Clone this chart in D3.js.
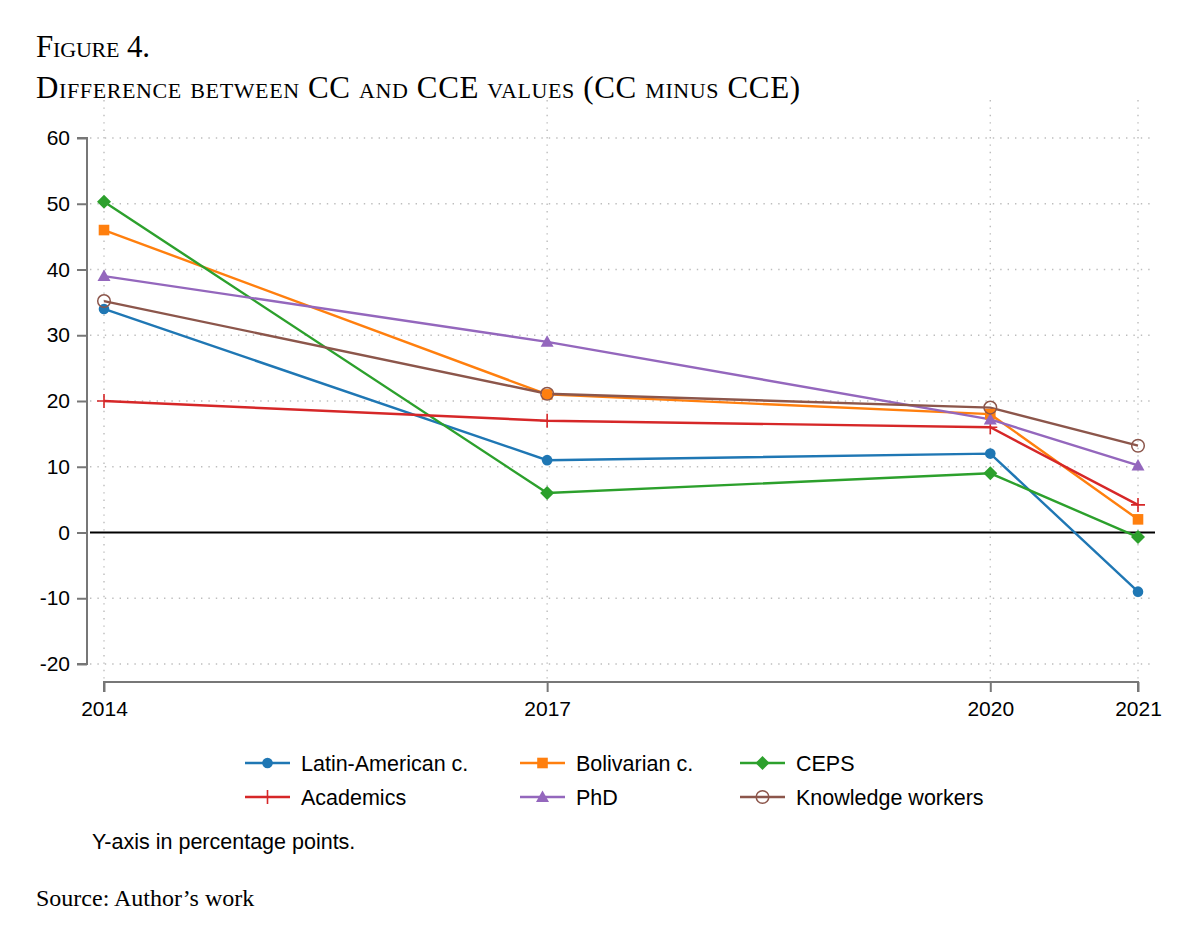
<!DOCTYPE html>
<html>
<head>
<meta charset="utf-8">
<script src="https://cdn.jsdelivr.net/npm/d3@7"></script>
<style>
	body { margin: 0; background: #fff; }
	.title { font-family: "Liberation Serif", "DejaVu Serif", serif; font-variant: small-caps; }
	.sans { font-family: "Liberation Sans", Arial, sans-serif; }
</style>
</head>
<body>
<svg id="chart"></svg>
<script>
const years = [2014, 2017, 2020, 2021];
const yTicks = [-20, -10, 0, 10, 20, 30, 40, 50, 60];

const seriesNames = ['Latin-American c.', 'Bolivarian c.', 'CEPS', 'Academics', 'PhD', 'Knowledge workers'];
const latinAmerican = [34, 11, 12, -9];
const bolivarian = [46, 21, 18, 2];
const ceps = [50.3, 6, 9, -0.7];
const academics = [20, 17, 16, 4.2];
const phd = [39, 29, 17.2, 10.2];
const knowledgeWorkers = [35.2, 21.1, 19, 13.2];

const colors = ['#1f77b4', '#ff7f0e', '#2ca02c', '#d62728', '#9467bd', '#8c564b'];
const markers = ['circle', 'square', 'diamond', 'plus', 'triangle', 'hollow'];

const series = [latinAmerican, bolivarian, ceps, academics, phd, knowledgeWorkers].map((vals, i) => ({
	name: seriesNames[i],
	color: colors[i],
	marker: markers[i],
	values: vals.map((v, j) => ({ year: years[j], value: v }))
}));

const width = 1196;
const height = 942;

const svg = d3.select('#chart')
	.attr('width', width)
	.attr('height', height);

// titles
svg.append('text').attr('class', 'title')
	.attr('x', 36).attr('y', 57)
	.attr('font-size', 31)
	.attr('textLength', 114).attr('lengthAdjust', 'spacing')
	.text('Figure 4.');
svg.append('text').attr('class', 'title')
	.attr('x', 36).attr('y', 98)
	.attr('font-size', 31)
	.attr('textLength', 764).attr('lengthAdjust', 'spacing')
	.text('Difference between CC and CCE values (CC minus CCE)');

const x = d3.scaleLinear().domain([2014, 2021]).range([104, 1138]);
const y = d3.scaleLinear().domain([-20, 60]).range([664, 138]);

// grid
const grid = svg.append('g');
grid.selectAll('.hgrid')
	.data(yTicks.filter(d => d !== 0))
	.join('line')
	.attr('x1', 90).attr('x2', 1155)
	.attr('y1', d => y(d)).attr('y2', d => y(d))
	.attr('stroke', '#bdbdbd')
	.attr('stroke-width', 1.4)
	.attr('stroke-dasharray', '1.4,6');
grid.selectAll('.vgrid')
	.data(years)
	.join('line')
	.attr('x1', d => x(d)).attr('x2', d => x(d))
	.attr('y1', 100).attr('y2', 680)
	.attr('stroke', '#bdbdbd')
	.attr('stroke-width', 1.4)
	.attr('stroke-dasharray', '1.4,6');

// zero line
svg.append('line')
	.attr('x1', 90).attr('x2', 1155)
	.attr('y1', y(0)).attr('y2', y(0))
	.attr('stroke', '#000')
	.attr('stroke-width', 2);

// axes
const fmt = d => String(d);
const yAxis = d3.axisLeft(y).tickValues(yTicks).tickFormat(fmt).tickSize(10).tickPadding(7);
const gy = svg.append('g')
	.attr('class', 'sans')
	.attr('transform', 'translate(87,0)')
	.call(yAxis);
gy.select('.domain').attr('stroke', '#777').attr('stroke-width', 2).attr('d', `M-10,${y(60)}H0V${y(-20)}H-10`);

const xAxis = d3.axisBottom(x).tickValues(years).tickFormat(fmt).tickSize(10).tickPadding(9);
const gx = svg.append('g')
	.attr('class', 'sans')
	.attr('transform', 'translate(0,682)')
	.call(xAxis);
gx.select('.domain').attr('stroke', '#777').attr('stroke-width', 2).attr('d', `M${x(2014)},10V0H${x(2021)}V10`);

[gx, gy].forEach(g => {
	g.selectAll('.tick line').attr('stroke', '#777').attr('stroke-width', 2);
	g.selectAll('.tick text').attr('fill', '#000').attr('font-size', 21).attr('font-family', '"Liberation Sans", Arial, sans-serif');
});

// marker drawing
function drawMarker(sel, type, color) {
	if (type === 'circle') {
		sel.append('circle').attr('r', 5.3).attr('fill', color);
	} else if (type === 'square') {
		sel.append('rect').attr('x', -5.3).attr('y', -5.3).attr('width', 10.6).attr('height', 10.6).attr('fill', color);
	} else if (type === 'diamond') {
		sel.append('path').attr('d', 'M0,-7L7,0L0,7L-7,0Z').attr('fill', color);
	} else if (type === 'triangle') {
		sel.append('path').attr('d', 'M0,-6.5L6.5,5L-6.5,5Z').attr('fill', color);
	} else if (type === 'plus') {
		sel.append('path').attr('d', 'M-7,0H7M0,-7V7').attr('stroke', color).attr('stroke-width', 1.6);
	} else if (type === 'hollow') {
		sel.append('circle').attr('r', 6.3).attr('fill', 'none').attr('stroke', color).attr('stroke-width', 1.5);
	}
}

const line = d3.line()
	.x(d => x(d.year))
	.y(d => y(d.value));

const plot = svg.append('g');
series.forEach(s => {
	plot.append('path')
		.datum(s.values)
		.attr('fill', 'none')
		.attr('stroke', s.color)
		.attr('stroke-width', 2.4)
		.attr('d', line);
});
series.forEach(s => {
	s.values.forEach(d => {
		const m = plot.append('g').attr('transform', `translate(${x(d.year)},${y(d.value)})`);
		drawMarker(m, s.marker, s.color);
	});
});

// legend
const legendCols = [245, 520, 740];
const legendRows = [763, 797];
const legend = svg.append('g').attr('class', 'sans');
series.forEach((s, i) => {
	const lx = legendCols[i % 3];
	const ly = legendRows[Math.floor(i / 3)];
	const item = legend.append('g').attr('transform', `translate(${lx},${ly})`);
	item.append('line')
		.attr('x1', 0).attr('x2', 45)
		.attr('stroke', s.color).attr('stroke-width', 2.4);
	drawMarker(item.append('g').attr('transform', 'translate(22.5,0)'), s.marker, s.color);
	item.append('text')
		.attr('x', 56).attr('y', 7.5)
		.attr('font-size', 21.5)
		.text(s.name);
});

svg.append('text').attr('class', 'sans')
	.attr('x', 92).attr('y', 849)
	.attr('font-size', 21.5)
	.text('Y-axis in percentage points.');

svg.append('text')
	.attr('font-family', '"Liberation Serif", "DejaVu Serif", serif')
	.attr('x', 36).attr('y', 906)
	.attr('font-size', 24)
	.text('Source: Author\u2019s work');
</script>
</body>
</html>
